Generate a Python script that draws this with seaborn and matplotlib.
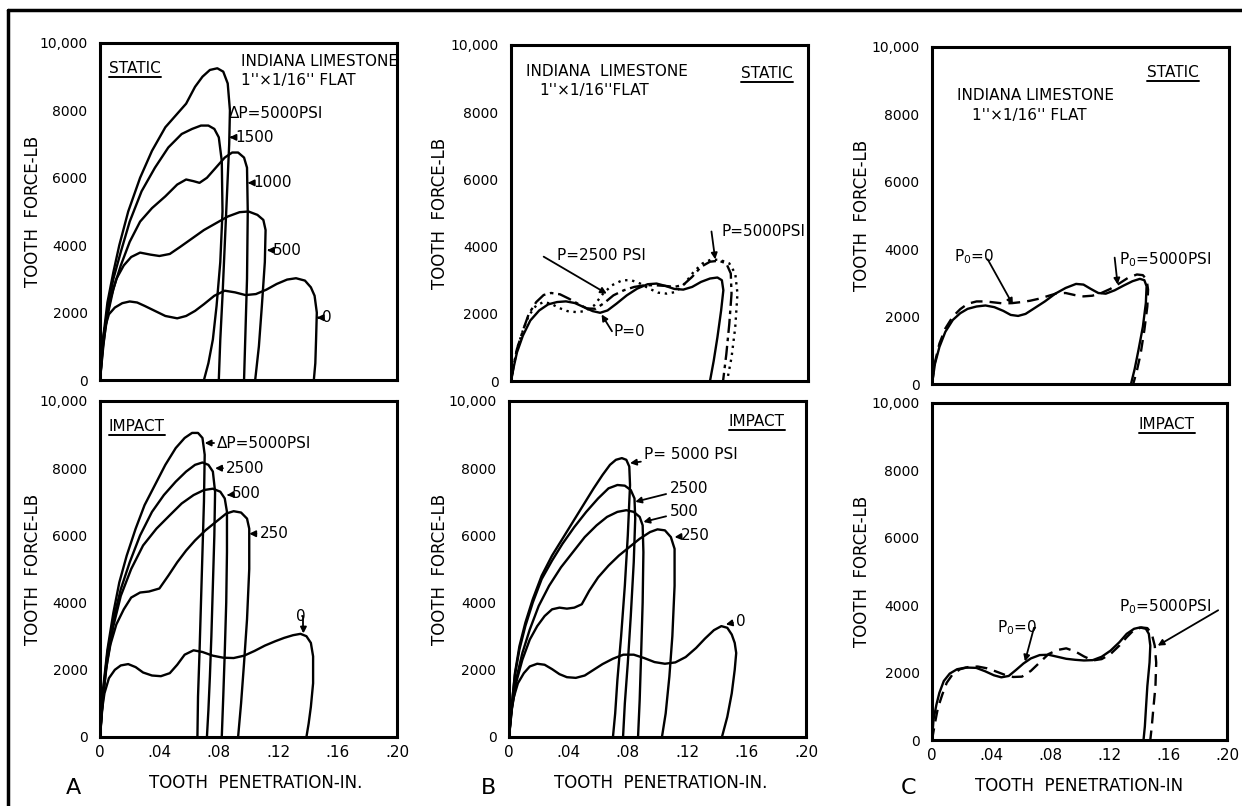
import matplotlib
matplotlib.use("Agg")
import matplotlib.pyplot as plt
import seaborn as sns
from matplotlib import font_manager
from matplotlib.lines import Line2D

# ---- curves (x = penetration in., y = force lb) ----
# A / static, dP
a_s_5000_x = [0, .002, .005, .009, .013, .019, .027, .035, .044, .052, .058, .064, .069, .074, .079, .083, .086, .0875, .087, .0855, .084, .0825, .081, .080]
a_s_5000_y = [0, 1200, 2300, 3200, 4000, 5000, 6000, 6800, 7500, 7900, 8200, 8700, 9000, 9200, 9250, 9150, 8800, 8000, 7000, 5500, 4000, 2500, 1200, 0]
a_s_1500_x = [0, .002, .005, .009, .014, .020, .028, .037, .046, .055, .062, .068, .073, .077, .080, .082, .0825, .081, .0785, .076, .073, .070]
a_s_1500_y = [0, 1100, 2100, 3000, 3800, 4700, 5600, 6300, 6900, 7300, 7450, 7550, 7550, 7450, 7200, 6500, 5000, 3500, 2200, 1200, 500, 0]
a_s_1000_x = [0, .002, .005, .009, .014, .020, .027, .035, .044, .052, .058, .063, .067, .072, .078, .084, .089, .093, .097, .099, .0995, .099, .098, .097]
a_s_1000_y = [0, 1000, 1900, 2700, 3400, 4100, 4700, 5100, 5450, 5800, 5950, 5900, 5850, 6000, 6300, 6600, 6750, 6750, 6600, 6300, 5000, 3000, 1500, 0]
a_s_500_x = [0, .002, .004, .007, .011, .016, .021, .027, .034, .040, .047, .054, .062, .070, .078, .086, .094, .100, .106, .110, .1115, .111, .109, .107, .1045]
a_s_500_y = [0, 900, 1700, 2400, 3000, 3400, 3650, 3780, 3720, 3680, 3740, 3950, 4200, 4450, 4650, 4850, 4980, 5000, 4900, 4750, 4450, 3500, 2200, 1000, 0]
a_s_0_x = [0, .001, .003, .006, .010, .015, .020, .025, .030, .037, .044, .052, .058, .064, .070, .077, .084, .091, .098, .105, .112, .119, .126, .132, .138, .142, .1445, .146, .1455, .145, .144]
a_s_0_y = [0, 900, 1500, 1950, 2150, 2280, 2330, 2300, 2200, 2050, 1900, 1830, 1900, 2050, 2250, 2500, 2650, 2600, 2520, 2550, 2680, 2850, 2980, 3020, 2950, 2750, 2500, 2000, 1200, 500, 0]

# A / impact, dP
a_i_5000_x = [0, .002, .005, .009, .013, .018, .024, .030, .037, .044, .051, .057, .062, .066, .069, .0705, .070, .069, .068, .067, .066, .0656]
a_i_5000_y = [0, 1400, 2600, 3700, 4600, 5400, 6200, 6900, 7500, 8100, 8600, 8900, 9050, 9050, 8900, 8400, 7000, 5500, 4000, 2500, 1200, 0]
a_i_2500_x = [0, .002, .005, .009, .014, .020, .027, .035, .043, .051, .058, .064, .069, .073, .076, .0775, .077, .076, .075, .074, .073, .072]
a_i_2500_y = [0, 1300, 2500, 3500, 4400, 5200, 6000, 6700, 7200, 7600, 7900, 8100, 8170, 8100, 7900, 7300, 6000, 4500, 3000, 1800, 800, 0]
a_i_500_x = [0, .002, .005, .009, .014, .021, .029, .038, .047, .055, .063, .070, .076, .081, .084, .0855, .0855, .085, .084, .083, .082]
a_i_500_y = [0, 1200, 2300, 3300, 4200, 5000, 5700, 6200, 6600, 6950, 7200, 7350, 7390, 7300, 7100, 6700, 5500, 4000, 2500, 1200, 0]
a_i_250_x = [0, .002, .004, .007, .011, .016, .021, .027, .033, .040, .046, .052, .058, .064, .071, .078, .085, .090, .095, .099, .1005, .1005, .099, .097, .095, .093]
a_i_250_y = [0, 1100, 2000, 2750, 3350, 3800, 4150, 4300, 4330, 4420, 4800, 5200, 5550, 5850, 6150, 6400, 6650, 6720, 6680, 6500, 6200, 5000, 3500, 2200, 1000, 0]
a_i_0_x = [0, .001, .003, .006, .010, .014, .019, .024, .029, .035, .041, .047, .052, .057, .063, .069, .076, .083, .090, .097, .104, .111, .118, .124, .130, .135, .139, .142, .1435, .1435, .142, .1405, .139]
a_i_0_y = [0, 700, 1300, 1750, 2000, 2130, 2170, 2080, 1920, 1830, 1810, 1900, 2150, 2450, 2580, 2530, 2420, 2360, 2350, 2420, 2560, 2720, 2850, 2950, 3030, 3070, 3000, 2800, 2400, 1600, 900, 400, 0]

# B / static, P
b_s_0_x = [0, .002, .004, .008, .013, .019, .025, .031, .037, .043, .049, .055, .060, .065, .071, .078, .085, .092, .098, .104, .110, .116, .122, .128, .134, .139, .142, .143, .1415, .139, .1365, .134]
b_s_0_y = [0, 450, 850, 1350, 1800, 2100, 2280, 2350, 2370, 2320, 2200, 2080, 2030, 2100, 2300, 2550, 2750, 2880, 2900, 2830, 2740, 2720, 2800, 2950, 3050, 3080, 3000, 2700, 2100, 1300, 600, 0]
b_s_2500_x = [0, .002, .004, .008, .012, .017, .022, .027, .033, .039, .045, .051, .057, .063, .069, .076, .083, .090, .097, .104, .110, .116, .122, .128, .134, .140, .145, .148, .1485, .147, .145, .1428]
b_s_2500_y = [0, 500, 950, 1500, 2000, 2350, 2560, 2620, 2580, 2450, 2300, 2160, 2150, 2330, 2550, 2700, 2800, 2850, 2850, 2830, 2800, 2860, 3100, 3400, 3550, 3580, 3500, 3200, 2600, 1700, 800, 0]
b_s_5000_x = [0, .002, .004, .008, .012, .017, .022, .027, .032, .038, .044, .050, .056, .062, .068, .075, .081, .087, .093, .099, .105, .111, .117, .123, .129, .135, .141, .147, .151, .1525, .151, .1485, .1455]
b_s_5000_y = [0, 500, 950, 1500, 1950, 2250, 2350, 2300, 2180, 2080, 2050, 2080, 2250, 2600, 2850, 3000, 3000, 2900, 2750, 2630, 2600, 2650, 2900, 3250, 3500, 3620, 3600, 3500, 3200, 2600, 1600, 700, 0]

# B / impact, P
b_i_5000_x = [0, .002, .004, .007, .011, .016, .022, .029, .036, .043, .050, .057, .063, .068, .072, .076, .079, .081, .0815, .080, .078, .0755, .073, .0715, .070]
b_i_5000_y = [0, 1000, 1900, 2700, 3400, 4100, 4800, 5400, 5900, 6400, 6900, 7400, 7800, 8100, 8250, 8300, 8250, 8050, 7500, 6000, 4500, 3000, 1700, 700, 0]
b_i_2500_x = [0, .002, .004, .007, .011, .016, .022, .029, .036, .044, .052, .060, .067, .073, .078, .082, .0845, .085, .084, .082, .080, .078, .0768]
b_i_2500_y = [0, 1000, 1850, 2600, 3300, 4000, 4700, 5250, 5750, 6250, 6700, 7100, 7400, 7500, 7480, 7350, 7100, 6500, 5200, 3600, 2200, 1000, 0]
b_i_500_x = [0, .002, .005, .009, .014, .020, .027, .035, .043, .051, .059, .066, .073, .079, .084, .088, .090, .0905, .090, .089, .088, .0869]
b_i_500_y = [0, 900, 1750, 2500, 3200, 3900, 4500, 5050, 5500, 5950, 6300, 6550, 6700, 6750, 6700, 6550, 6300, 5500, 4000, 2500, 1100, 0]
b_i_250_x = [0, .002, .005, .009, .014, .019, .024, .029, .034, .039, .044, .049, .054, .060, .067, .074, .081, .088, .095, .100, .105, .109, .1115, .1115, .110, .108, .1055, .103]
b_i_250_y = [0, 850, 1650, 2300, 2900, 3300, 3600, 3800, 3850, 3820, 3850, 3950, 4350, 4750, 5100, 5400, 5650, 5900, 6100, 6180, 6150, 5950, 5600, 4500, 3000, 1800, 700, 0]
b_i_0_x = [0, .001, .003, .006, .010, .014, .019, .024, .029, .034, .039, .045, .051, .057, .063, .070, .077, .084, .091, .098, .105, .112, .119, .126, .132, .138, .143, .147, .150, .152, .153, .152, .150, .147, .1434]
b_i_0_y = [0, 600, 1150, 1600, 1900, 2100, 2180, 2150, 2020, 1870, 1780, 1760, 1830, 2000, 2170, 2330, 2450, 2450, 2350, 2230, 2180, 2220, 2380, 2650, 2930, 3180, 3300, 3250, 3050, 2800, 2500, 2000, 1300, 600, 0]

# C / static, Po
c_s_0_x = [0, .002, .005, .009, .014, .019, .024, .030, .036, .042, .048, .053, .058, .063, .069, .076, .083, .090, .097, .102, .107, .112, .117, .123, .129, .135, .140, .143, .1445, .144, .142, .139, .1365, .134]
c_s_0_y = [0, 600, 1100, 1550, 1900, 2100, 2230, 2300, 2330, 2280, 2170, 2050, 2020, 2080, 2250, 2450, 2680, 2850, 2970, 2950, 2820, 2700, 2680, 2780, 2920, 3050, 3120, 3080, 2900, 2400, 1700, 1000, 450, 0]
c_s_5000_x = [0, .002, .005, .009, .014, .019, .024, .030, .036, .042, .048, .054, .060, .066, .072, .078, .084, .090, .096, .102, .108, .114, .120, .126, .132, .138, .142, .1445, .1455, .145, .143, .1405, .138, .1355]
c_s_5000_y = [0, 650, 1200, 1650, 2000, 2220, 2380, 2450, 2450, 2420, 2390, 2400, 2430, 2470, 2530, 2610, 2690, 2700, 2640, 2600, 2620, 2700, 2820, 2980, 3150, 3250, 3230, 3100, 2800, 2300, 1600, 900, 400, 0]

# C / impact, Po
c_i_0_x = [0, .001, .003, .005, .008, .012, .017, .023, .030, .036, .042, .047, .052, .057, .062, .067, .073, .079, .085, .091, .097, .103, .109, .115, .121, .127, .132, .137, .141, .145, .147, .148, .1475, .146, .145, .1443, .1434]
c_i_0_y = [0, 600, 1050, 1400, 1750, 1970, 2100, 2150, 2140, 2040, 1920, 1860, 1900, 2080, 2270, 2420, 2520, 2530, 2470, 2410, 2380, 2360, 2370, 2470, 2650, 2900, 3150, 3300, 3340, 3300, 3150, 2800, 2300, 1600, 900, 400, 0]
c_i_5000_x = [0, .002, .004, .007, .010, .014, .019, .025, .031, .037, .043, .049, .055, .061, .067, .073, .079, .085, .091, .097, .103, .109, .115, .121, .127, .132, .137, .142, .146, .149, .151, .152, .1515, .150, .149, .148]
c_i_5000_y = [0, 500, 950, 1350, 1700, 1950, 2100, 2170, 2180, 2130, 2040, 1940, 1870, 1880, 2050, 2300, 2550, 2670, 2720, 2630, 2480, 2360, 2400, 2550, 2800, 3050, 3270, 3340, 3320, 3150, 2800, 2300, 1600, 900, 400, 0]

x_ticks = [0, .04, .08, .12, .16, .20]
x_ticklabels = ["0", ".04", ".08", ".12", ".16", ".20"]
y_ticks = [0, 2000, 4000, 6000, 8000, 10000]
y_ticklabels = ["0", "2000", "4000", "6000", "8000", "10,000"]

# ---- style ----
sns.set_style("white")
names = {f.name for f in font_manager.fontManager.ttflist}
fam = "Liberation Sans Narrow" if "Liberation Sans Narrow" in names else "DejaVu Sans"
plt.rcParams['font.family'] = [fam, 'DejaVu Sans']
plt.rcParams['mathtext.fontset'] = 'custom'
plt.rcParams['mathtext.rm'] = fam
plt.rcParams['mathtext.default'] = 'regular'
for k in ['text.color', 'axes.labelcolor', 'xtick.color', 'ytick.color']:
    plt.rcParams[k] = 'black'
FS = 14 if fam != "DejaVu Sans" else 11

W, H = 1242, 806
fig = plt.figure(figsize=(W / 100, H / 100), dpi=100)

# axes boxes in pixels: left, top, right, bottom
boxes = {
    ("A", 0): (100, 43, 397, 380), ("A", 1): (100, 401, 397, 737),
    ("B", 0): (511, 45, 808, 381), ("B", 1): (509, 401, 806, 737),
    ("C", 0): (932, 47, 1229, 384), ("C", 1): (932, 403, 1227, 740),
}
ylab_px = {"A": 42, "B": 449, "C": 871}
xlab_cx = {"A": 0.525, "B": 0.512, "C": 0.50}
xlab_txt = {"A": "TOOTH  PENETRATION-IN.", "B": "TOOTH  PENETRATION-IN.", "C": "TOOTH  PENETRATION-IN"}

axes = {}
for key, (l, t, r, b) in boxes.items():
    ax = fig.add_axes([l / W, 1 - b / H, (r - l) / W, (b - t) / H])
    axes[key] = ax
    ax.set_xlim(0, 0.20)
    ax.set_ylim(0, 10000)
    ax.set_xticks(x_ticks)
    ax.set_yticks(y_ticks)
    ax.set_yticklabels(y_ticklabels, fontsize=FS - 1)
    if key[1] == 1:
        ax.set_xticklabels(x_ticklabels, fontsize=FS)
        ax.set_xlabel(xlab_txt[key[0]], fontsize=FS + 1)
        ax.xaxis.set_label_coords(xlab_cx[key[0]], -0.11)
    else:
        ax.set_xticklabels([])
    ax.tick_params(axis='x', direction='in', length=9, width=2, pad=6)
    ax.tick_params(axis='y', direction='in', length=11, width=2, pad=9)
    for s in ax.spines.values():
        s.set_linewidth(2.2)
        s.set_color('black')
    ax.set_ylabel("TOOTH  FORCE-LB", fontsize=FS + 1)
    ax.yaxis.set_label_coords((ylab_px[key[0]] - l) / (r - l), 0.5)


def curve(ax, xs, ys, ls='-'):
    sns.lineplot(x=xs, y=ys, sort=False, estimator=None, ax=ax, color='black',
                 lw=1.7, linestyle=ls)


def tag(ax, text, xy, xytext, ha='left', va='center', fs=FS):
    ax.annotate(text, xy=xy, xytext=xytext, ha=ha, va=va, fontsize=fs,
                arrowprops=dict(arrowstyle='-|>', color='black', lw=1.3,
                                mutation_scale=9, shrinkA=0, shrinkB=0))


def pointer(ax, xy, xytext, conn="arc3"):
    ax.annotate("", xy=xy, xytext=xytext,
                arrowprops=dict(arrowstyle='-|>', color='black', lw=1.3, mutation_scale=9,
                                shrinkA=0, shrinkB=0, connectionstyle=conn))


underlined = []


def uline_text(ax, x, y, s):
    underlined.append(ax.text(x, y, s, fontsize=FS, va='center'))


DOT = (0, (1, 2))
DASHDOT = (0, (6, 2, 1.5, 2))
DASH = (0, (5, 3))

# A static
ax = axes[("A", 0)]
for xs, ys in [(a_s_5000_x, a_s_5000_y), (a_s_1500_x, a_s_1500_y), (a_s_1000_x, a_s_1000_y),
               (a_s_500_x, a_s_500_y), (a_s_0_x, a_s_0_y)]:
    curve(ax, xs, ys)
uline_text(ax, 0.006, 9250, "STATIC")
ax.text(0.095, 9450, "INDIANA LIMESTONE", fontsize=FS, va='center')
ax.text(0.095, 8900, "1''×1/16'' FLAT", fontsize=FS, va='center')
ax.text(0.087, 7900, "ΔP=5000PSI", fontsize=FS, va='center')
tag(ax, "1500", (0.0872, 7200), (0.091, 7200))
tag(ax, "1000", (0.0995, 5850), (0.1035, 5850))
tag(ax, "500", (0.1125, 3850), (0.1165, 3850))
tag(ax, "0", (0.146, 1850), (0.1495, 1850))

# A impact
ax = axes[("A", 1)]
for xs, ys in [(a_i_5000_x, a_i_5000_y), (a_i_2500_x, a_i_2500_y), (a_i_500_x, a_i_500_y),
               (a_i_250_x, a_i_250_y), (a_i_0_x, a_i_0_y)]:
    curve(ax, xs, ys)
uline_text(ax, 0.006, 9250, "IMPACT")
tag(ax, "ΔP=5000PSI", (0.0705, 8750), (0.079, 8750))
tag(ax, "2500", (0.0775, 8000), (0.085, 8000))
tag(ax, "500", (0.0855, 7200), (0.089, 7250))
tag(ax, "250", (0.1005, 6050), (0.1075, 6050))
ax.text(0.132, 3600, "0", fontsize=FS, va='center')
pointer(ax, (0.137, 3080), (0.136, 3600), "angle,angleA=0,angleB=90")

# B static
ax = axes[("B", 0)]
curve(ax, b_s_0_x, b_s_0_y)
curve(ax, b_s_2500_x, b_s_2500_y, DASHDOT)
curve(ax, b_s_5000_x, b_s_5000_y, DOT)
ax.text(0.010, 9200, "INDIANA  LIMESTONE", fontsize=FS, va='center')
ax.text(0.019, 8650, "1''×1/16''FLAT", fontsize=FS, va='center')
uline_text(ax, 0.155, 9150, "STATIC")
ax.text(0.031, 3750, "P=2500 PSI", fontsize=FS, va='center')
pointer(ax, (0.0645, 2600), (0.022, 3700))
ax.text(0.142, 4450, "P=5000PSI", fontsize=FS, va='center')
pointer(ax, (0.1375, 3620), (0.135, 4450))
ax.text(0.069, 1480, "P=0", fontsize=FS, va='center')
pointer(ax, (0.061, 1980), (0.068, 1480))

# B impact
ax = axes[("B", 1)]
for xs, ys in [(b_i_5000_x, b_i_5000_y), (b_i_2500_x, b_i_2500_y), (b_i_500_x, b_i_500_y),
               (b_i_250_x, b_i_250_y), (b_i_0_x, b_i_0_y)]:
    curve(ax, xs, ys)
uline_text(ax, 0.148, 9400, "IMPACT")
tag(ax, "P= 5000 PSI", (0.0815, 8150), (0.091, 8400))
tag(ax, "2500", (0.085, 7000), (0.108, 7400))
tag(ax, "500", (0.0905, 6400), (0.108, 6700))
tag(ax, "250", (0.1115, 5950), (0.116, 6000))
tag(ax, "0", (0.146, 3350), (0.153, 3450))

# C static
ax = axes[("C", 0)]
curve(ax, c_s_0_x, c_s_0_y)
curve(ax, c_s_5000_x, c_s_5000_y, DASH)
uline_text(ax, 0.145, 9230, "STATIC")
ax.text(0.017, 8550, "INDIANA LIMESTONE", fontsize=FS, va='center')
ax.text(0.027, 7980, "1''×1/16'' FLAT", fontsize=FS, va='center')
ax.text(0.015, 3780, "P$_0$=0", fontsize=FS, va='center')
pointer(ax, (0.0545, 2350), (0.0375, 3700))
ax.text(0.126, 3700, "P$_0$=5000PSI", fontsize=FS, va='center')
pointer(ax, (0.125, 2950), (0.123, 3750))

# C impact
ax = axes[("C", 1)]
curve(ax, c_i_0_x, c_i_0_y)
curve(ax, c_i_5000_x, c_i_5000_y, DASH)
uline_text(ax, 0.140, 9350, "IMPACT")
ax.text(0.044, 3330, "P$_0$=0", fontsize=FS, va='center')
pointer(ax, (0.063, 2330), (0.070, 3330), "angle,angleA=180,angleB=75")
ax.text(0.127, 3950, "P$_0$=5000PSI", fontsize=FS, va='center')
pointer(ax, (0.153, 2800), (0.194, 3850))

# panel letters and outer frame
for letter, px in [("A", 73), ("B", 488), ("C", 909)]:
    fig.text(px / W, 1 - 788 / H, letter, fontsize=FS + 5, ha='center', va='center')
fig.add_artist(Line2D([8 / W, 8 / W], [0, 1 - 10 / H], transform=fig.transFigure, color='black', lw=2.5))
fig.add_artist(Line2D([8 / W, 1], [1 - 10 / H, 1 - 10 / H], transform=fig.transFigure, color='black', lw=2.5))

# underline the STATIC / IMPACT headings
fig.canvas.draw()
inv = fig.transFigure.inverted()
for t in underlined:
    bb = t.get_window_extent()
    (x0, y0), (x1, _) = inv.transform([(bb.x0, bb.y0 - 1), (bb.x1, bb.y0)])
    fig.add_artist(Line2D([x0, x1], [y0, y0], transform=fig.transFigure, color='black', lw=1.4))

fig.savefig("out.png", dpi=100)
